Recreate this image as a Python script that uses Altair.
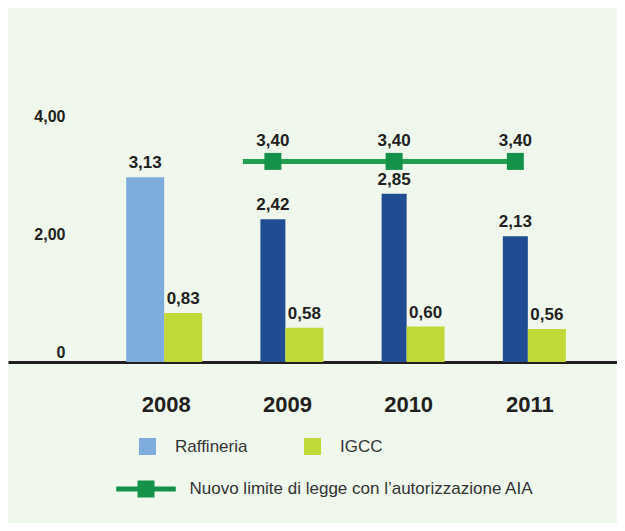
import altair as alt
import pandas as pd

anni = ["2008", "2009", "2010", "2011"]
raffineria = [3.13, 2.42, 2.85, 2.13]
igcc = [0.83, 0.58, 0.60, 0.56]
limite_anni = ["2009", "2010", "2011"]
limite = [3.40, 3.40, 3.40]
serie = ["Raffineria", "IGCC"]
nome_limite = "Nuovo limite di legge con l\u2019autorizzazione AIA"

df = pd.DataFrame({
    "anno": anni + anni,
    "serie": [serie[0]] * len(anni) + [serie[1]] * len(anni),
    "valore": raffineria + igcc,
})
df_lim = pd.DataFrame({"anno": limite_anni, "valore": limite, "limite": [nome_limite] * len(limite)})
df_rule = pd.DataFrame({"da": [limite_anni[0]], "a": [limite_anni[-1]], "valore": [limite[0]]})

LIGHT = "#7eacdc"
DARK = "#1f4c92"
YG = "#c0d838"
GREEN_LINE = "#22a04f"
GREEN_SQ = "#15924a"
TXT = "#231f20"
BG = "#f0f8ee"
FONT = "Liberation Sans"

XSCALE = alt.Scale(domain=anni, paddingInner=0, paddingOuter=0.512, align=0.77)
XAXIS = alt.Axis(title=None, labelAngle=0, labelFont=FONT, labelFontSize=22,
                 labelFontWeight="bold", labelColor=TXT, labelPadding=42,
                 labelBaseline="middle", ticks=False, tickSize=0,
                 domainColor=TXT, domainWidth=3, grid=False, labelOffset=2)
X = alt.X("anno:N", scale=XSCALE, axis=XAXIS)
Y = alt.Y("valore:Q",
          scale=alt.Scale(domain=[0, 6], nice=False),
          axis=alt.Axis(title=None, values=[0, 2, 4],
                        labelExpr="datum.value == 0 ? '0' : replace(format(datum.value, '.2f'), '.', ',')",
                        domain=False, ticks=False, tickSize=0, grid=False,
                        labelPadding=-57, labelAlign="right", labelBaseline="alphabetic",
                        labelOffset=-5, labelFont=FONT, labelFontSize=16,
                        labelFontWeight="bold", labelColor=TXT, labelOverlap=False))

color_enc = alt.Color("serie:N",
                      scale=alt.Scale(domain=serie, range=[LIGHT, YG]),
                      legend=alt.Legend(title=None, orient="none", legendX=131, legendY=430,
                                        direction="horizontal", symbolType="square",
                                        symbolSize=289, symbolStrokeWidth=0, symbolOpacity=1,
                                        labelFont=FONT, labelFontSize=17, labelColor="#333333",
                                        labelOffset=19, columnPadding=56, labelLimit=0))

lab_expr = "replace(format(datum.valore, '.2f'), '.', ',')"
base = alt.Chart(df).transform_calculate(lab=lab_expr)

r08 = base.transform_filter("datum.serie == 'Raffineria' && datum.anno == '2008'")
rdk = base.transform_filter("datum.serie == 'Raffineria' && datum.anno != '2008'")
ig = base.transform_filter("datum.serie == 'IGCC'")

txt_kw = dict(font=FONT, fontSize=17, fontWeight="bold", color=TXT, baseline="alphabetic", dy=-9)

bar08 = r08.mark_bar(width=38, xOffset=-19).encode(x=X, y=Y, color=color_enc)
bardk = rdk.mark_bar(width=25, xOffset=-12.5, color=DARK).encode(x=X, y=Y)
barig = ig.mark_bar(width=38, xOffset=19).encode(x=X, y=Y, color=color_enc)

t08 = r08.mark_text(xOffset=-19, **txt_kw).encode(x=X, y=Y, text="lab:N")
tdk = rdk.mark_text(xOffset=-12.5, **txt_kw).encode(x=X, y=Y, text="lab:N")
tig = ig.mark_text(xOffset=19, **txt_kw).encode(x=X, y=Y, text="lab:N")

rule = alt.Chart(df_rule).mark_rule(strokeWidth=5, color=GREEN_LINE, xOffset=-42.5, x2Offset=-12.5).encode(
    x=alt.X("da:N", scale=XSCALE, axis=XAXIS), x2="a:N", y=Y)

sq_path = "M-3.5,-0.3H3.5V0.3H-3.5Z M-1,-1H1V1H-1Z"
squares = alt.Chart(df_lim).mark_square(size=289, filled=True, opacity=1, xOffset=-12.5).encode(
    x=X, y=Y,
    fill=alt.Fill("limite:N", scale=alt.Scale(range=[GREEN_SQ]),
                  legend=alt.Legend(title=None, orient="none", legendX=129.5, legendY=472.5,
                                    symbolType=sq_path, symbolSize=289, symbolStrokeWidth=0,
                                    symbolOpacity=1, labelFont=FONT, labelFontSize=17,
                                    labelColor="#333333", labelOffset=35, labelLimit=0)))
tlim = alt.Chart(df_lim).transform_calculate(lab=lab_expr).mark_text(
    xOffset=-12.5, font=FONT, fontSize=17, fontWeight="bold", color=TXT,
    baseline="alphabetic", dy=-15).encode(x=X, y=Y, text="lab:N")

chart = alt.layer(bar08, bardk, barig, t08, tdk, tig, rule, squares, tlim).properties(
    width=609, height=354,
    autosize=alt.AutoSizeParams(type="none"),
    padding={"left": 0, "right": 0, "top": 0, "bottom": 161},
    background=BG,
).configure_view(stroke=None)

chart.save("out.html", embed_options={"renderer": "svg", "actions": False})
